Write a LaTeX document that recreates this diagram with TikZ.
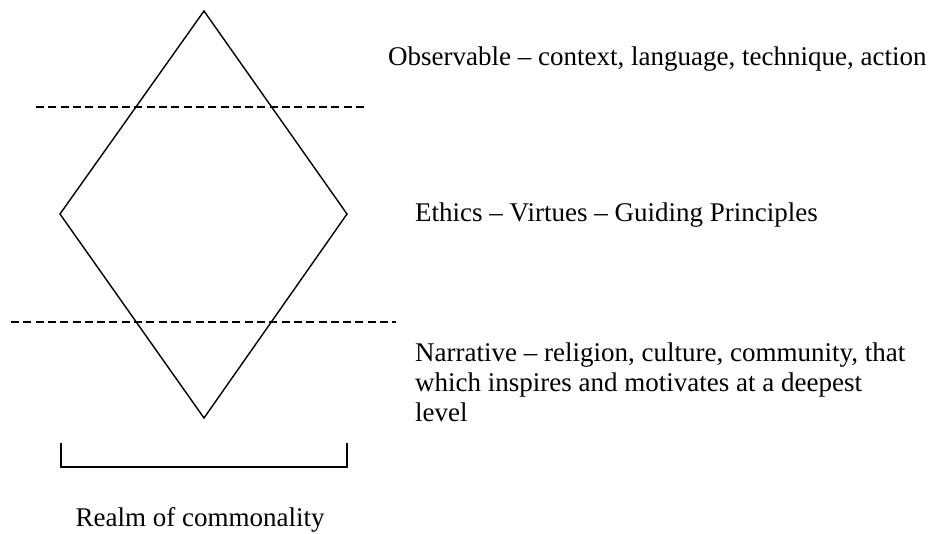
\documentclass[tikz,border=0pt]{standalone}
\usepackage{fontspec}
\setmainfont{Liberation Serif}
\begin{document}
\begin{tikzpicture}[x=1pt,y=-1pt,
  outline/.style={line width=1.4pt,line join=miter},
  divider/.style={line width=1.4pt,dash pattern=on 8pt off 4.3pt},
  caption/.style={inner sep=0pt,font=\fontsize{27}{30}\selectfont,align=left}]
\useasboundingbox (0,0) rectangle (937,533);
% diamond corners
\coordinate (top) at (204,11);
\coordinate (left) at (60,214);
\coordinate (right) at (347,214);
\coordinate (bottom) at (204,418);
\draw[outline] (top) -- (right) -- (bottom) -- (left) -- cycle;
% level dividers
\coordinate (d1a) at (36,107);
\coordinate (d1b) at (366,107);
\coordinate (d2a) at (11,322);
\coordinate (d2b) at (396,322);
\draw[divider] (d1a) -- (d1b);
\draw[divider] (d2a) -- (d2b);
% bracket under the diamond
\coordinate (b1) at (61,443);
\coordinate (b2) at (61,467);
\coordinate (b3) at (347,467);
\coordinate (b4) at (347,443);
\draw[outline] (b1) -- (b2) -- (b3) -- (b4);
% labels
\node[caption,anchor=base west] (obs) at (388,65) {Observable -- context, language, technique, action};
\node[caption,anchor=base west] (eth) at (415,221) {Ethics -- Virtues -- Guiding Principles};
\node[caption,anchor=north west] (nar) at (415,343) {Narrative -- religion, culture, community, that\\which inspires and motivates at a deepest\\level};
\node[caption,anchor=base] (realm) at (200,526) {Realm of commonality};
\end{tikzpicture}
\end{document}
